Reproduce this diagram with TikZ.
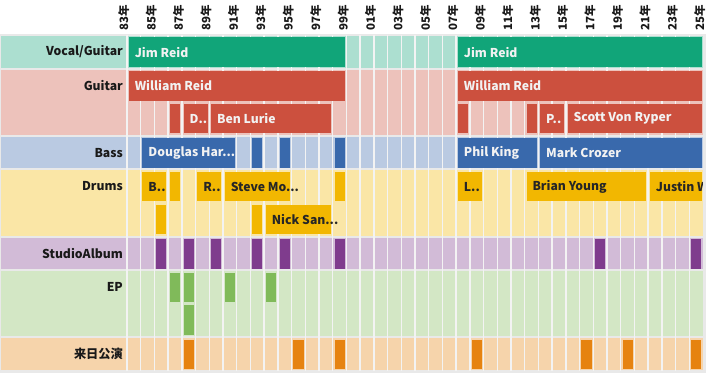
\documentclass[tikz,border=0pt]{standalone}
\usepackage{fontspec}
\setmainfont{Noto Sans CJK JP}
\usepackage{tikz}
\usetikzlibrary{fit, positioning}

\definecolor{vgC}{HTML}{11A579}
\definecolor{guitC}{HTML}{CC503E}
\definecolor{bassC}{HTML}{3969AC}
\definecolor{drumC}{HTML}{F2B701}
\definecolor{albC}{HTML}{7F3C8D}
\definecolor{epC}{HTML}{80BA5A}
\definecolor{liveC}{HTML}{E68310}
\definecolor{gapC}{HTML}{E9E9E9}
\definecolor{gridC}{HTML}{F3F3F3}

\begin{document}
\begin{tikzpicture}[
x=13.714pt, y=-33.6pt,
    bar/.style={inner sep=0pt, draw=none},
    vgbar/.style={bar, fill=vgC},
    gbar/.style={bar, fill=guitC},
    bbar/.style={bar, fill=bassC},
    dbar/.style={bar, fill=drumC},
    abar/.style={bar, fill=albC},
    ebar/.style={bar, fill=epC},
    lbar/.style={bar, fill=liveC},
    barlbl/.style={anchor=west, inner xsep=6pt, inner ysep=0pt, text=white!95!black, font=\bfseries\fontsize{12.2}{13}\selectfont},
    drumlbl/.style={barlbl, text=black!85},
    rowlbl/.style={anchor=east, inner sep=0pt, text=black!90, font=\bfseries\fontsize{12.2}{13}\selectfont},
    yearlbl/.style={rotate=90, anchor=west, inner sep=0pt, text=black!90, font=\bfseries\fontsize{11.5}{12}\selectfont},
    gridline/.style={draw=gridC, line width=1.4pt}
]
    \useasboundingbox (-9.2606,-1.04167) rectangle (42.219,10.0595);

    % ================= BACKGROUND =================
    \fill[gapC] (-9.2606,-0.03) rectangle (42.219,10.0595);
    \fill[vgC!35] (-9.19,0.03) rectangle (42,0.97);
    \fill[guitC!35] (-9.19,1.03) rectangle (42,2.97);
    \fill[bassC!35] (-9.19,3.03) rectangle (42,3.97);
    \fill[drumC!35] (-9.19,4.03) rectangle (42,5.97);
    \fill[albC!35] (-9.19,6.03) rectangle (42,6.97);
    \fill[epC!35] (-9.19,7.03) rectangle (42,8.97);
    \fill[liveC!35] (-9.19,9.03) rectangle (42,9.97);

    \foreach \i in {0,...,41}
        \draw[gridline] (\i,0) -- (\i,10);

    % ================= YEARS =================
    \foreach \i in {0,2,...,42} {
        \pgfmathtruncatemacro{\yr}{mod(83+\i,100)}
        \node[yearlbl] (y\i) at (\i-0.24,-0.12) {\ifnum\yr<10 0\fi\yr 年};
    }

    % ================= ROW LABELS =================
    \node[rowlbl] (rVG) at (-0.29,0.5) {Vocal/Guitar};
    \node[rowlbl] (rG) at (-0.29,1.5) {Guitar};
    \node[rowlbl] (rB) at (-0.29,3.5) {Bass};
    \node[rowlbl] (rD) at (-0.29,4.5) {Drums};
    \node[rowlbl] (rA) at (-0.29,6.5) {StudioAlbum};
    \node[rowlbl] (rE) at (-0.29,7.5) {EP};
    \node[rowlbl] (rL) at (-0.29,9.5) {来日公演};

    % ================= VOCAL/GUITAR =================
    \node[vgbar, fit={(0.13,0.07) (15.87,0.95)}] (vg1) {};
    \node[barlbl] (vg1t) at (vg1.west) {Jim Reid};
    \node[vgbar, fit={(24.13,0.07) (41.9,0.95)}] (vg2) {};
    \node[barlbl] (vg2t) at (vg2.west) {Jim Reid};

    % ================= GUITAR =================
    \node[gbar, fit={(0.13,1.07) (15.87,1.95)}] (g1) {};
    \node[barlbl] (g1t) at (g1.west) {William Reid};
    \node[gbar, fit={(24.13,1.07) (41.9,1.95)}] (g2) {};
    \node[barlbl] (g2t) at (g2.west) {William Reid};

    \node[gbar, fit={(3.13,2.05) (3.87,2.93)}] (g3) {};
    \node[gbar, fit={(4.13,2.05) (5.87,2.93)}] (g4) {};
    \node[barlbl] (g4t) at (g4.west) {D..};
    \node[gbar, fit={(6.13,2.05) (14.87,2.93)}] (g5) {};
    \node[barlbl] (g5t) at (g5.west) {Ben Lurie};
    \node[gbar, fit={(24.13,2.05) (24.87,2.93)}] (g6) {};
    \node[gbar, fit={(29.13,2.05) (29.87,2.93)}] (g7) {};
    \node[gbar, fit={(30.13,2.05) (31.87,2.93)}] (g8) {};
    \node[barlbl] (g8t) at (g8.west) {P..};
    \node[gbar, fit={(32.13,2.05) (41.9,2.93)}] (g9) {};
    \node[barlbl] (g9t) at (g9.west) {Scott Von Ryper};

    % ================= BASS =================
    \node[bbar, fit={(1.13,3.07) (7.87,3.95)}] (b1) {};
    \node[barlbl] (b1t) at (b1.west) {Douglas Har...};
    \node[bbar, fit={(9.13,3.07) (9.87,3.95)}] (b2) {};
    \node[bbar, fit={(11.13,3.07) (11.87,3.95)}] (b3) {};
    \node[bbar, fit={(15.13,3.07) (15.87,3.95)}] (b4) {};
    \node[bbar, fit={(24.13,3.07) (29.87,3.95)}] (b5) {};
    \node[barlbl] (b5t) at (b5.west) {Phil King};
    \node[bbar, fit={(30.13,3.07) (41.9,3.95)}] (b6) {};
    \node[barlbl] (b6t) at (b6.west) {Mark Crozer};

    % ================= DRUMS =================
    \node[dbar, fit={(1.13,4.07) (2.87,4.95)}] (d1) {};
    \node[drumlbl] (d1t) at (d1.west) {B..};
    \node[dbar, fit={(3.13,4.07) (3.87,4.95)}] (d2) {};
    \node[dbar, fit={(5.13,4.07) (6.87,4.95)}] (d3) {};
    \node[drumlbl] (d3t) at (d3.west) {R..};
    \node[dbar, fit={(7.13,4.07) (11.87,4.95)}] (d4) {};
    \node[drumlbl] (d4t) at (d4.west) {Steve Mo...};
    \node[dbar, fit={(15.13,4.07) (15.87,4.95)}] (d5) {};
    \node[dbar, fit={(24.13,4.07) (25.87,4.95)}] (d6) {};
    \node[drumlbl] (d6t) at (d6.west) {L..};
    \node[dbar, fit={(29.13,4.07) (37.87,4.95)}] (d7) {};
    \node[drumlbl] (d7t) at (d7.west) {Brian Young};
    \node[dbar, fit={(38.13,4.07) (41.9,4.95)}] (d8) {};
    \begin{scope}
        \clip (38,4) rectangle (41.95,5);
        \node[drumlbl] (d8t) at (d8.west) {Justin Welch};
    \end{scope}

    \node[dbar, fit={(2.13,5.05) (2.87,5.93)}] (d9) {};
    \node[dbar, fit={(9.13,5.05) (9.87,5.93)}] (d10) {};
    \node[dbar, fit={(10.13,5.05) (14.87,5.93)}] (d11) {};
    \node[drumlbl] (d11t) at (d11.west) {Nick San...};

    % ================= STUDIO ALBUMS =================
    \node[abar, fit={(2.13,6.07) (2.87,6.95)}] (a1) {};
    \node[abar, fit={(4.13,6.07) (4.87,6.95)}] (a2) {};
    \node[abar, fit={(6.13,6.07) (6.87,6.95)}] (a3) {};
    \node[abar, fit={(9.13,6.07) (9.87,6.95)}] (a4) {};
    \node[abar, fit={(11.13,6.07) (11.87,6.95)}] (a5) {};
    \node[abar, fit={(15.13,6.07) (15.87,6.95)}] (a6) {};
    \node[abar, fit={(34.13,6.07) (34.87,6.95)}] (a7) {};
    \node[abar, fit={(41.13,6.07) (41.87,6.95)}] (a8) {};

    % ================= EP =================
    \node[ebar, fit={(3.13,7.07) (3.87,7.95)}] (e1) {};
    \node[ebar, fit={(4.13,7.07) (4.87,7.95)}] (e2) {};
    \node[ebar, fit={(7.13,7.07) (7.87,7.95)}] (e3) {};
    \node[ebar, fit={(10.13,7.07) (10.87,7.95)}] (e4) {};
    \node[ebar, fit={(4.13,8.05) (4.87,8.93)}] (e5) {};

    % ================= LIVE IN JAPAN =================
    \node[lbar, fit={(4.13,9.07) (4.87,9.95)}] (l1) {};
    \node[lbar, fit={(12.13,9.07) (12.87,9.95)}] (l2) {};
    \node[lbar, fit={(15.13,9.07) (15.87,9.95)}] (l3) {};
    \node[lbar, fit={(25.13,9.07) (25.87,9.95)}] (l4) {};
    \node[lbar, fit={(33.13,9.07) (33.87,9.95)}] (l5) {};
    \node[lbar, fit={(36.13,9.07) (36.87,9.95)}] (l6) {};
    \node[lbar, fit={(41.13,9.07) (41.87,9.95)}] (l7) {};

\end{tikzpicture}
\end{document}
